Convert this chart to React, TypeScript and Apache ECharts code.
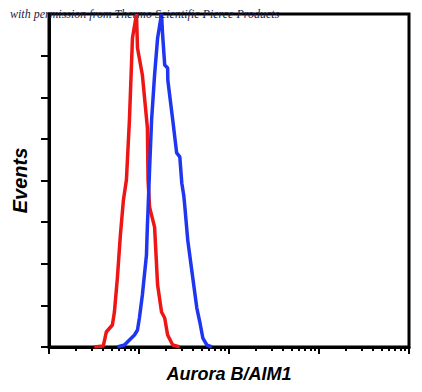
import React, { useEffect, useRef } from "react";
import * as echarts from "echarts";

// Isotype control (red) and Aurora B/AIM1 stained (blue) histograms
const redX = [3.18, 4.01, 4.33, 5.06, 5.33, 5.75, 6.21, 6.71, 7.25, 7.83, 8.46, 9.38, 9.62, 10.9, 12.4, 12.6, 13.1, 14.9, 16.1, 17.8, 19.3, 20.8, 23.7, 28.4];
const redY = [0, 0.3, 4.5, 6.6, 10.5, 20.7, 33.6, 44.1, 50.2, 68.2, 92.8, 100, 89.8, 81.7, 65.8, 50.2, 42.0, 36.0, 18.6, 10.5, 8.7, 3.6, 0.6, 0];

const blueX = [5.75, 6.89, 7.83, 8.91, 9.62, 10.1, 10.9, 12.1, 12.4, 12.6, 13.1, 13.8, 14.9, 16.1, 17.8, 18.3, 19.3, 20.8, 20.9, 21.9, 23.7, 26.2, 28.4, 29.9, 31.4, 32.2, 34.8, 36.6, 43.9, 47.4, 51.2, 56.8, 64.6];
const blueY = [0, 0.6, 2.1, 3.6, 5.1, 8.7, 15.6, 27.6, 36.6, 41.1, 53.2, 68.2, 81.7, 92.8, 100, 93.7, 84.7, 83.8, 80.2, 75.7, 68.2, 58.3, 57.1, 49.2, 45.6, 42.6, 32.1, 27.6, 11.7, 7.5, 2.7, 0.6, 0];

const minorTickLogs: number[] = [];
[1, 10, 100, 1000].forEach((d) => {
  for (let k = 2; k <= 9; k++) minorTickLogs.push(Math.log10(d * k));
});
const yTickValues = [0, 12.5, 25, 37.5, 50, 62.5, 75, 87.5];

const xTitle = "Aurora B/AIM1";
const yTitle = "Events";
const watermark = "with permission from Thermo Scientific Pierce Products";

export default function App() {
  const ref = useRef<HTMLDivElement>(null);
  useEffect(() => {
    if (!ref.current) return;
    const chart = echarts.init(ref.current, null, { renderer: "svg" });
    const toPairs = (xs: number[], ys: number[]) => xs.map((x, i) => [x, ys[i]]);
    chart.setOption({
      animation: false,
      backgroundColor: "#ffffff",
      grid: {
        left: 49,
        top: 14,
        right: 13,
        bottom: 45,
        show: true,
        borderColor: "#000",
        borderWidth: 3,
        backgroundColor: "transparent",
      },
      xAxis: [
        {
          type: "log",
          logBase: 10,
          min: 1,
          max: 10000,
          splitNumber: 4,
          position: "bottom",
          name: xTitle,
          nameLocation: "middle",
          nameGap: 18,
          nameTextStyle: {
            fontFamily: "Liberation Sans, Arial, sans-serif",
            fontStyle: "italic",
            fontWeight: "bold",
            fontSize: 18,
            color: "#000",
          },
          axisLine: { show: true, lineStyle: { color: "#000", width: 3 } },
          axisTick: { show: true, length: 7, lineStyle: { color: "#000", width: 2 } },
          axisLabel: { show: false },
          splitLine: { show: false },
          minorTick: { show: false },
        },
        {
          type: "value",
          min: 0,
          max: 4,
          position: "bottom",
          axisLine: { show: false },
          axisTick: {
            show: true,
            length: 4,
            customValues: minorTickLogs,
            lineStyle: { color: "#000", width: 2 },
          },
          axisLabel: { show: false },
          splitLine: { show: false },
        },
      ],
      yAxis: {
        type: "value",
        min: 0,
        max: 100,
        interval: 12.5,
        name: yTitle,
        nameLocation: "middle",
        nameGap: 19,
        nameRotate: 90,
        nameTextStyle: {
          fontFamily: "Liberation Sans, Arial, sans-serif",
          fontStyle: "italic",
          fontWeight: "bold",
          fontSize: 20,
          color: "#000",
        },
        axisLine: { show: true, lineStyle: { color: "#000", width: 3 } },
        axisTick: {
          show: true,
          length: 8,
          customValues: yTickValues,
          lineStyle: { color: "#000", width: 2 },
        },
        axisLabel: { show: false },
        splitLine: { show: false },
      },
      series: [
        {
          type: "line",
          xAxisIndex: 0,
          data: toPairs(redX, redY),
          showSymbol: false,
          lineStyle: { color: "#ee1515", width: 3.5 },
          z: 3,
        },
        {
          type: "line",
          xAxisIndex: 0,
          data: toPairs(blueX, blueY),
          showSymbol: false,
          lineStyle: { color: "#1f36f0", width: 3.5 },
          z: 4,
        },
      ],
      graphic: [
        {
          type: "text",
          left: 10,
          top: 8,
          z: 100,
          style: {
            text: watermark,
            font: "italic 12px 'Liberation Serif', 'DejaVu Serif', serif",
            fill: "#1c2244",
          },
        },
      ],
    });
    return () => chart.dispose();
  }, []);
  return (
    <div
      ref={ref}
      style={{ position: "fixed", left: 0, top: 0, width: 422, height: 392 }}
    />
  );
}
